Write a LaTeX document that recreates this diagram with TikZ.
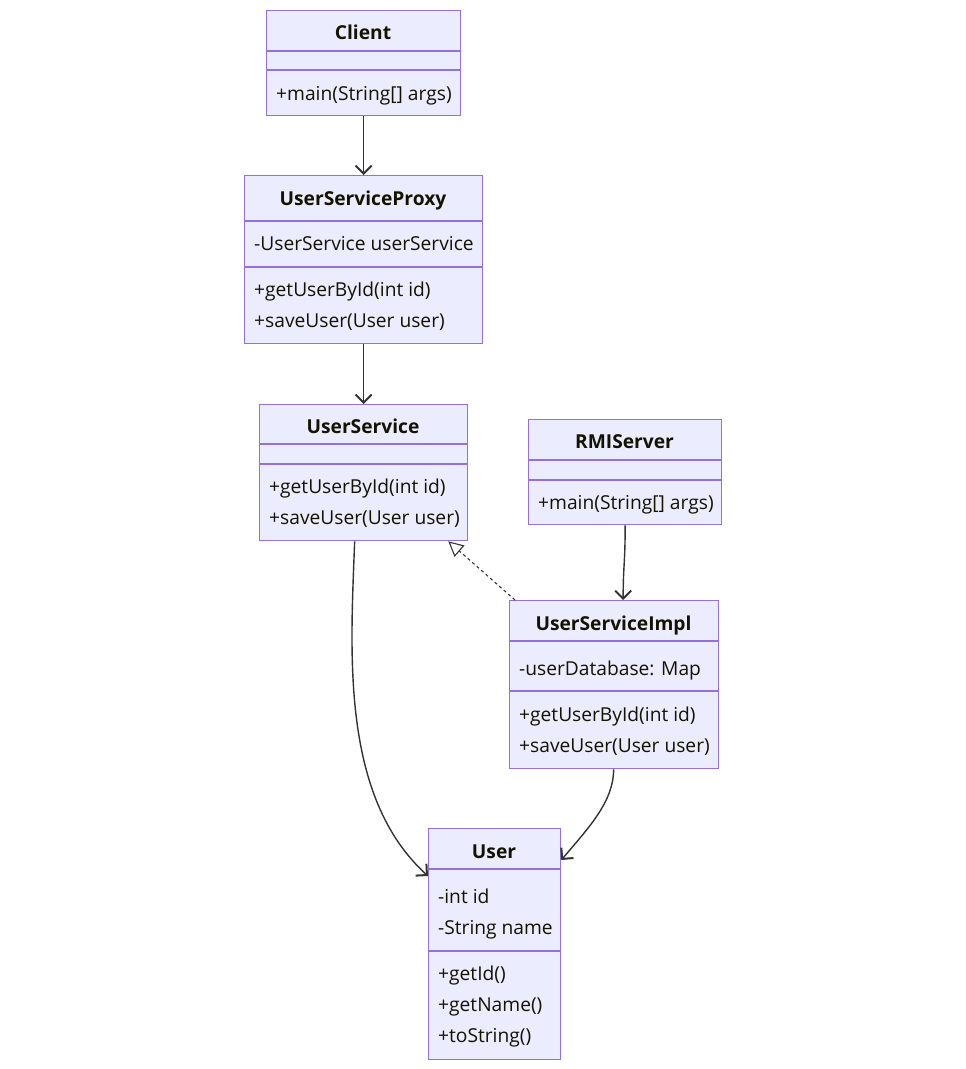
\documentclass[tikz,border=0pt]{standalone}
\usepackage{fontspec}
\setmainfont{Open Sans}
\usetikzlibrary{arrows.meta,positioning}

\definecolor{umlfill}{HTML}{ECECFF}
\definecolor{umlline}{HTML}{9370DB}
\definecolor{umltext}{HTML}{131300}
\definecolor{edgegray}{HTML}{333333}

\tikzset{
  umlbox/.style={draw=umlline,fill=umlfill,line width=1.3pt,inner sep=0pt,anchor=north west},
  umlsep/.style={draw=umlline,line width=1.3pt},
  umltitle/.style={font=\bfseries\fontsize{19.2}{22}\selectfont,text=umltext,inner sep=0pt,anchor=base,yshift=-7pt},
  umlmember/.style={font=\fontsize{19.2}{22}\selectfont,text=umltext,anchor=base west,inner sep=0pt,yshift=-6.5pt},
  assoc/.style={draw=edgegray,line width=1.4pt,-{Straight Barb[length=8pt,width=16pt,line width=2pt]}},
  realize/.style={draw=edgegray,line width=1.1pt,dash pattern=on 3pt off 3pt,-{Triangle[open,length=15pt,width=15pt,line width=1.1pt]}}
}

\begin{document}
\begin{tikzpicture}[x=1pt,y=-1pt]
  \useasboundingbox (0,0) rectangle (966,1069);

  % Client
  \node[umlbox,minimum width=194pt,minimum height=105pt] (client) at (266,10) {};
  \draw[umlsep] (client.west |- 0,51) -- (client.east |- 0,51);
  \draw[umlsep] (client.west |- 0,70) -- (client.east |- 0,70);
  \node[umltitle] (clientname) at (363,32) {Client};
  \node[umlmember] (clientm1) at (276,94) {+main(String[] args)};

  % UserServiceProxy
  \node[umlbox,minimum width=238pt,minimum height=168pt] (proxy) at (244,175) {};
  \draw[umlsep] (proxy.west |- 0,221) -- (proxy.east |- 0,221);
  \draw[umlsep] (proxy.west |- 0,267) -- (proxy.east |- 0,267);
  \node[umltitle] (proxyname) at (363,198) {UserServiceProxy};
  \node[umlmember] (proxya1) at (254,244) {-UserService userService};
  \node[umlmember] (proxym1) at (254,290) {+getUserById(int id)};
  \node[umlmember] (proxym2) at (254,321) {+saveUser(User user)};

  % UserService
  \node[umlbox,minimum width=208pt,minimum height=136pt] (service) at (259,404) {};
  \draw[umlsep] (service.west |- 0,444) -- (service.east |- 0,444);
  \draw[umlsep] (service.west |- 0,464) -- (service.east |- 0,464);
  \node[umltitle] (servicename) at (363,426) {UserService};
  \node[umlmember] (servicem1) at (269,487) {+getUserById(int id)};
  \node[umlmember] (servicem2) at (269,518) {+saveUser(User user)};

  % RMIServer
  \node[umlbox,minimum width=193pt,minimum height=105pt] (rmi) at (528,419) {};
  \draw[umlsep] (rmi.west |- 0,460) -- (rmi.east |- 0,460);
  \draw[umlsep] (rmi.west |- 0,480) -- (rmi.east |- 0,480);
  \node[umltitle] (rminame) at (624.5,441) {RMIServer};
  \node[umlmember] (rmim1) at (538,503) {+main(String[] args)};

  % UserServiceImpl
  \node[umlbox,minimum width=209pt,minimum height=168pt] (impl) at (509,600) {};
  \draw[umlsep] (impl.west |- 0,641) -- (impl.east |- 0,641);
  \draw[umlsep] (impl.west |- 0,691) -- (impl.east |- 0,691);
  \node[umltitle] (implname) at (613.5,623) {UserServiceImpl};
  \node[umlmember] (impla1) at (519,669) {-userDatabase: Map};
  \node[umlmember] (implm1) at (519,715) {+getUserById(int id)};
  \node[umlmember] (implm2) at (519,746) {+saveUser(User user)};

  % User
  \node[umlbox,minimum width=132pt,minimum height=231pt] (user) at (428,828) {};
  \draw[umlsep] (user.west |- 0,869) -- (user.east |- 0,869);
  \draw[umlsep] (user.west |- 0,951) -- (user.east |- 0,951);
  \node[umltitle] (username) at (494,851) {User};
  \node[umlmember] (usera1) at (438,897) {-int id};
  \node[umlmember] (usera2) at (438,928) {-String name};
  \node[umlmember] (userm1) at (438,974) {+getId()};
  \node[umlmember] (userm2) at (438,1005) {+getName()};
  \node[umlmember] (userm3) at (438,1036) {+toString()};

  % relations
  \draw[assoc] (client.south) -- (proxy.north);
  \draw[assoc] (proxy.south) -- (service.north);
  \draw[assoc] (rmi.south) .. controls ([yshift=-40pt]rmi.south) and ([xshift=9pt,yshift=35pt]impl.north) .. ([xshift=9pt]impl.north);
  \draw[realize] ([xshift=6pt]impl.north west) -- ([xshift=-20pt]service.south east);
  \draw[assoc] ([xshift=-9pt]service.south) .. controls ([xshift=-13pt,yshift=-110pt]service.south) and ([xshift=-88pt,yshift=80pt]user.west |- 0,876) .. ([yshift=-48pt]user.north west);
  \draw[assoc] ([xshift=-0.5pt]impl.south) .. controls ([xshift=-0.5pt,yshift=-32pt]impl.south) and ([xshift=28pt,yshift=33pt]user.east |- 0,860) .. ([yshift=-32pt]user.north east);
\end{tikzpicture}
\end{document}
